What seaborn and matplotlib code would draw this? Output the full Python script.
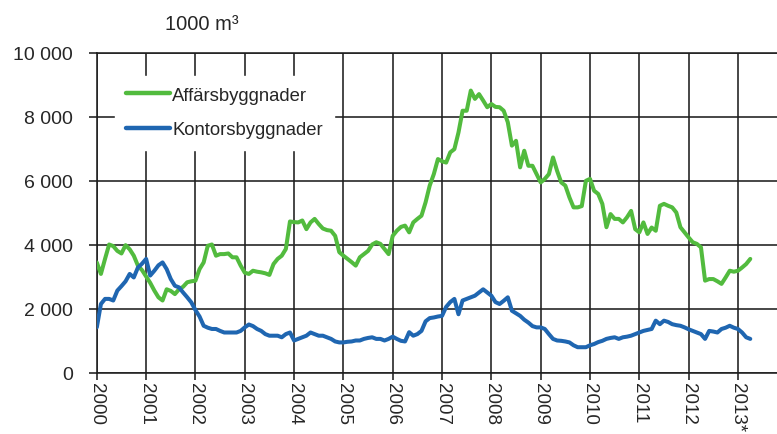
import numpy as np
import pandas as pd
import matplotlib
matplotlib.use("Agg")
import matplotlib.pyplot as plt
import seaborn as sns

# monthly values, 1000 m3 (thousands), Jan 2000 .. Apr 2013
affars = [
    3.44, 3.08, 3.55, 4.00, 3.95, 3.80, 3.72, 3.98, 3.85, 3.65, 3.34, 3.20,  # 2000
    3.00, 2.80, 2.56, 2.35, 2.25, 2.60, 2.55, 2.45, 2.60, 2.68, 2.82, 2.85,  # 2001
    2.87, 3.23, 3.44, 3.96, 4.00, 3.65, 3.70, 3.70, 3.72, 3.60, 3.60, 3.34,  # 2002
    3.12, 3.08, 3.18, 3.15, 3.13, 3.10, 3.05, 3.39, 3.55, 3.65, 3.86, 4.72,  # 2003
    4.70, 4.69, 4.75, 4.48, 4.69, 4.80, 4.64, 4.50, 4.45, 4.43, 4.27, 3.76,  # 2004
    3.65, 3.55, 3.45, 3.34, 3.60, 3.70, 3.80, 4.00, 4.07, 4.02, 3.86, 3.70,  # 2005
    4.27, 4.43, 4.55, 4.59, 4.38, 4.69, 4.80, 4.90, 5.32, 5.84, 6.20, 6.67,  # 2006
    6.60, 6.56, 6.88, 6.98, 7.50, 8.18, 8.18, 8.81, 8.55, 8.70, 8.50, 8.29,  # 2007
    8.39, 8.30, 8.29, 8.18, 7.82, 7.09, 7.24, 6.41, 6.93, 6.46, 6.46, 6.20,  # 2008
    5.94, 6.05, 6.20, 6.72, 6.30, 5.94, 5.84, 5.47, 5.16, 5.16, 5.20, 5.99,  # 2009
    6.05, 5.68, 5.58, 5.27, 4.54, 4.95, 4.80, 4.80, 4.69, 4.85, 5.05, 4.48,  # 2010
    4.38, 4.69, 4.33, 4.53, 4.43, 5.21, 5.27, 5.21, 5.16, 5.00, 4.54, 4.38,  # 2011
    4.22, 4.07, 4.02, 3.91, 2.87, 2.92, 2.92, 2.85, 2.77, 2.97, 3.18, 3.15,  # 2012
    3.18, 3.28, 3.39, 3.55,                                                  # 2013
]
kontors = [
    1.41, 2.14, 2.30, 2.30, 2.25, 2.56, 2.70, 2.85, 3.08, 2.97, 3.28, 3.40,  # 2000
    3.55, 3.03, 3.18, 3.35, 3.44, 3.23, 2.92, 2.71, 2.66, 2.50, 2.35, 2.19,  # 2001
    1.95, 1.75, 1.46, 1.40, 1.36, 1.36, 1.30, 1.25, 1.25, 1.25, 1.25, 1.30,  # 2002
    1.41, 1.50, 1.45, 1.36, 1.30, 1.20, 1.15, 1.15, 1.15, 1.10, 1.20, 1.25,  # 2003
    1.00, 1.05, 1.10, 1.15, 1.25, 1.20, 1.15, 1.15, 1.10, 1.05, 0.97, 0.94,  # 2004
    0.94, 0.96, 0.97, 1.00, 1.00, 1.05, 1.08, 1.10, 1.05, 1.05, 1.00, 1.05,  # 2005
    1.12, 1.05, 0.99, 0.97, 1.26, 1.15, 1.20, 1.30, 1.60, 1.70, 1.72, 1.75,  # 2006
    1.77, 2.05, 2.20, 2.30, 1.82, 2.25, 2.30, 2.35, 2.40, 2.50, 2.60, 2.50,  # 2007
    2.40, 2.20, 2.14, 2.24, 2.35, 1.93, 1.85, 1.77, 1.65, 1.56, 1.45, 1.41,  # 2008
    1.41, 1.36, 1.20, 1.05, 1.00, 0.99, 0.97, 0.94, 0.85, 0.79, 0.79, 0.79,  # 2009
    0.85, 0.89, 0.95, 0.99, 1.05, 1.08, 1.10, 1.05, 1.10, 1.12, 1.15, 1.20,  # 2010
    1.25, 1.30, 1.33, 1.36, 1.62, 1.51, 1.62, 1.58, 1.51, 1.48, 1.46, 1.41,  # 2011
    1.35, 1.30, 1.25, 1.20, 1.05, 1.30, 1.28, 1.25, 1.36, 1.40, 1.46, 1.40,  # 2012
    1.36, 1.25, 1.10, 1.05,                                                  # 2013
]
series_names = ["Affärsbyggnader", "Kontorsbyggnader"]
year_labels = ["2000", "2001", "2002", "2003", "2004", "2005", "2006",
               "2007", "2008", "2009", "2010", "2011", "2012", "2013*"]
y_ticks = [0, 2000, 4000, 6000, 8000, 10000]
y_labels = ["0", "2 000", "4 000", "6 000", "8 000", "10 000"]
unit_label = "1000 m³"

df = pd.DataFrame({
    "month": list(range(len(affars))) + list(range(len(kontors))),
    "value": [v * 1000 for v in affars] + [v * 1000 for v in kontors],
    "series": [series_names[0]] * len(affars) + [series_names[1]] * len(kontors),
})

sns.set_theme(style="white")
plt.rcParams["font.family"] = ["Liberation Sans", "DejaVu Sans"]
grid_col = "#1e1e1e"

fig = plt.figure(figsize=(7.77, 4.35), dpi=100)
ax = fig.add_axes([96.8 / 777, 61.5 / 435, 680.2 / 777, 320 / 435])

sns.lineplot(data=df, x="month", y="value", hue="series", ax=ax,
             palette=["#52bb3e", "#1f66b1"], linewidth=2.9, zorder=3)

ax.set_xlim(0, 165.5)
ax.set_ylim(0, 10000)
ax.set_xticks(range(0, 12 * len(year_labels), 12))
ax.set_xticklabels(year_labels, rotation=270, va="top", ha="center")
ax.set_yticks(y_ticks)
ax.set_yticklabels(y_labels)
ax.set_xlabel("")
ax.set_ylabel("")

ax.grid(True, color=grid_col, linewidth=1.15)
ax.set_axisbelow(True)
for side in ["left", "bottom", "top"]:
    ax.spines[side].set_visible(True)
    ax.spines[side].set_color(grid_col)
    ax.spines[side].set_linewidth(1.15)
ax.spines["right"].set_visible(False)

ax.tick_params(axis="y", length=6, width=1.15, color=grid_col, pad=11, labelsize=14, left=True)
ax.tick_params(axis="x", length=5, width=1.15, color=grid_col, pad=2, labelsize=13.5, bottom=True)

leg = ax.legend(loc="upper left", bbox_to_anchor=(0.027, 0.927), frameon=True,
                facecolor="white", edgecolor="white", framealpha=1, fancybox=False,
                fontsize=13.3, handlelength=2.35, handletextpad=0.15,
                labelspacing=0.95, borderpad=0.6, borderaxespad=0)
leg.set_zorder(5)
for line in leg.get_lines():
    line.set_linewidth(3.2)

fig.text(165 / 777, 1 - 24 / 435, unit_label, fontsize=14.5, va="center", ha="left")

fig.savefig("out.png", dpi=100)
